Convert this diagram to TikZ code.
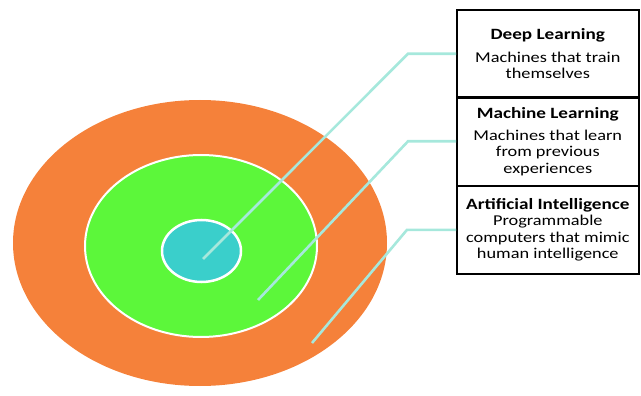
\documentclass[tikz,border=0pt]{standalone}
\usepackage{fontspec}
\setmainfont{Carlito}[FakeStretch=1.22]
\definecolor{ringorange}{HTML}{F5813A}
\definecolor{ringgreen}{HTML}{5CF73A}
\definecolor{ringcyan}{HTML}{3ACFCB}
\definecolor{linkcyan}{HTML}{A6E8DC}
\newcommand{\celltitle}[1]{{\fontsize{15.7}{16}\selectfont\bfseries #1}}
\tikzset{
  cell/.style={draw=black, line width=1.6pt, minimum width=182pt, minimum height=88pt,
    anchor=north west, align=center, inner sep=0pt, font=\fontsize{15}{16.3}\selectfont},
  link/.style={draw=linkcyan, line width=2.6pt}
}
\begin{document}
\begin{tikzpicture}[x=1pt, y=-1pt]
  \useasboundingbox (0,0) rectangle (641,396);

  % rings
  \fill[ringorange] (200,243) ellipse [x radius=187, y radius=143];
  \draw[fill=ringgreen, draw=white, line width=2pt] (201,246) ellipse [x radius=116, y radius=91];
  \draw[fill=ringcyan, draw=white, line width=2.5pt] (201.5,251) ellipse [x radius=39.5, y radius=31];

  % table on the right
  \node[cell] (dl) at (456,9) {\celltitle{Deep Learning}\\[6pt]Machines that train\\themselves};
  \node[cell, minimum height=89pt] (ml) at (456,96) {\celltitle{Machine Learning}\\[6pt]Machines that learn\\from previous\\experiences};
  \node[cell] (ai) at (456,185) {\celltitle{Artificial Intelligence}\\Programmable\\computers that mimic\\human intelligence};

  % connectors
  \coordinate (dlin) at (203,259);
  \coordinate (mlin) at (258,300);
  \coordinate (aiin) at (312,343);
  \path (dl.west) ++(-48,0) coordinate (dlbend);
  \path (ml.west) ++(-48,0) coordinate (mlbend);
  \path (ai.west) ++(-49,0) coordinate (aibend);
  \draw[link] (dlin) -- (dlbend) -- (dl.west);
  \draw[link] (mlin) -- (mlbend) -- (ml.west);
  \draw[link] (aiin) -- (aibend) -- (ai.west);
\end{tikzpicture}
\end{document}
